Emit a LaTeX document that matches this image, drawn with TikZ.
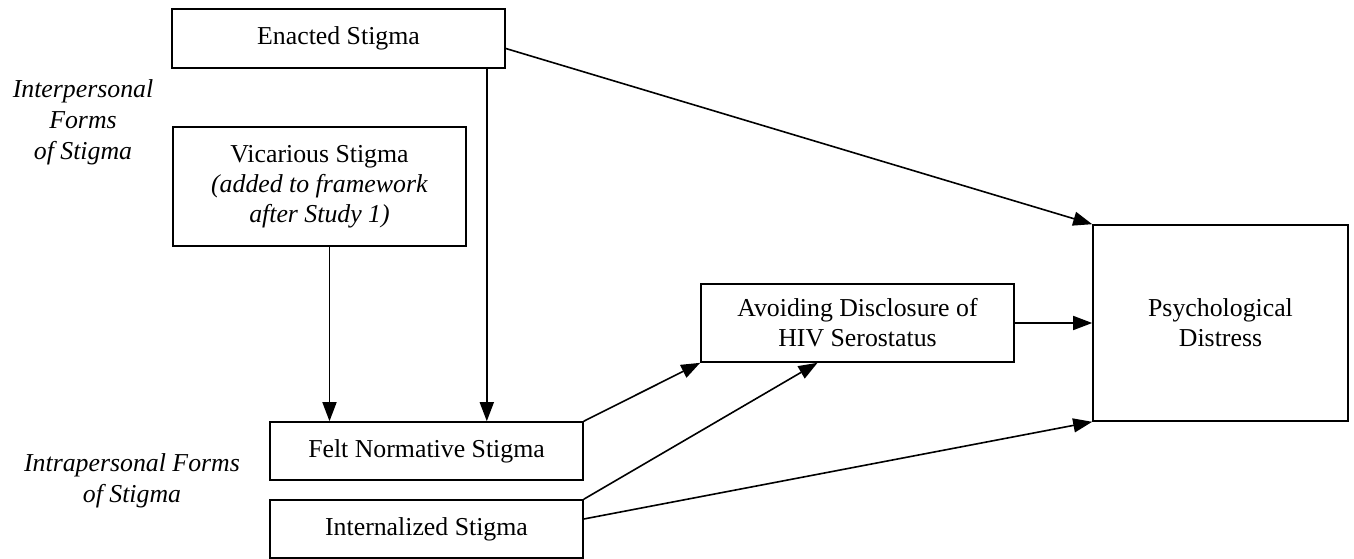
\documentclass[tikz,border=0pt]{standalone}
\usepackage{fontspec}
\setmainfont{Liberation Serif}
\usepackage{tikz}
\usetikzlibrary{arrows.meta}
\usetikzlibrary{positioning}

\begin{document}
\begin{tikzpicture}[x=1pt,y=-1pt,
  stigbox/.style={rectangle,draw=black,line width=1.6pt,inner sep=0pt,align=center,font=\fontsize{25.8}{30}\selectfont},
  grouplabel/.style={align=center,inner sep=0pt,font=\fontsize{25.8}{31}\selectfont\itshape},
  arr/.style={line width=1.6pt,-{Triangle[length=19pt,width=14pt]}}]
\useasboundingbox (0,0) rectangle (1354,559);
\node at (83,122)[grouplabel](interlbl){Interpersonal\\Forms\\of Stigma};
\node at (132,481)[grouplabel](intralbl){Intrapersonal Forms\\of Stigma};
\node at (338.5,38.5)[stigbox,minimum width=333pt,minimum height=59pt](enacted){Enacted Stigma};
\node at (319.5,186.5)[stigbox,minimum width=293pt,minimum height=119pt](vicarious){Vicarious Stigma\\\textit{(added to framework}\\\textit{after Study 1)}};
\node at (426.5,451)[stigbox,minimum width=313pt,minimum height=58pt](felt){Felt Normative Stigma};
\node at (426.5,529)[stigbox,minimum width=313pt,minimum height=58pt](internal){Internalized Stigma};
\node at (857.5,323)[stigbox,minimum width=313pt,minimum height=78pt](avoid){Avoiding Disclosure of\\HIV Serostatus};
\node at (1220.5,323)[stigbox,minimum width=255pt,minimum height=196pt](distress){Psychological\\Distress};
% links into felt normative stigma
\draw[arr] ([xshift=-19pt]enacted.south east) -- ([xshift=-19pt]enacted.south east |- felt.north);
\draw[arr] ([xshift=10pt]vicarious.south) -- ([xshift=10pt]vicarious.south |- felt.north);
% links to avoiding disclosure and distress
\draw[arr] ([yshift=-10pt]enacted.east) -- (distress.north west);
\draw[arr] (felt.north east) -- (avoid.south west);
\draw[arr] (internal.north east) -- ([xshift=-40pt]avoid.south);
\draw[arr] ([yshift=10pt]internal.east) -- (distress.south west);
\draw[arr] (avoid.east) -- (distress.west);
\end{tikzpicture}
\end{document}
